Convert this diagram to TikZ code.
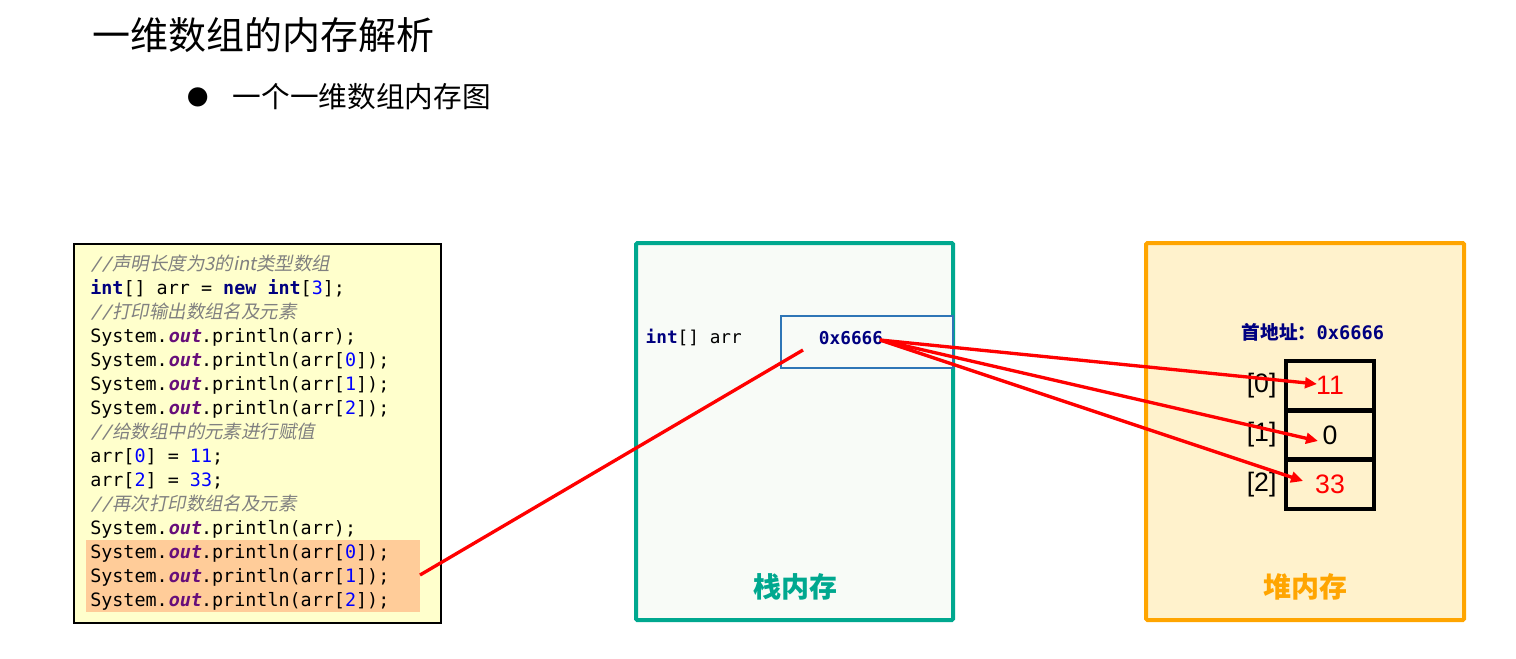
\documentclass[tikz,border=0pt]{standalone}
\usepackage{fontspec}
\setmonofont{DejaVu Sans Mono}
\setsansfont{Liberation Sans}
\newfontfamily\cjk{Noto Sans CJK SC}
\newfontfamily\cjkit{Noto Sans CJK SC}[FakeSlant=0.2]
\newfontfamily\monoit{DejaVu Sans Mono}[FakeSlant=0.2]
\usetikzlibrary{arrows.meta,positioning}
\definecolor{codebg}{HTML}{FFFFCC}
\definecolor{hlbg}{HTML}{FFCC99}
\definecolor{stackc}{HTML}{00A88F}
\definecolor{stackbg}{HTML}{F8FBF7}
\definecolor{heapc}{HTML}{FFA500}
\definecolor{heapbg}{HTML}{FFF2CC}
\definecolor{navy}{HTML}{000080}
\definecolor{kwc}{HTML}{00007F}
\definecolor{numc}{HTML}{0000FF}
\definecolor{outc}{HTML}{660E7A}
\definecolor{cmtc}{HTML}{808080}
\definecolor{addrc}{HTML}{2E75B6}
\newcommand{\kw}[1]{\textcolor{kwc}{\bfseries #1}}
\newcommand{\num}[1]{\textcolor{numc}{#1}}
\newcommand{\outf}{\textcolor{outc}{\bfseries\monoit out}}
\newcommand{\cmt}[1]{\textcolor{cmtc}{\monoit //\cjkit #1}}
\begin{document}
\begin{tikzpicture}[
    x=0.75pt, y=-0.75pt,
    font=\cjk,
    memorybox/.style={line width=3pt, rounded corners=1pt},
    cellbox/.style={draw, line width=3.5pt, outer sep=0pt, minimum width=66pt, minimum height=37pt, inner sep=0pt, font=\sffamily\fontsize{20}{20}\selectfont},
    idxlabel/.style={font=\sffamily\fontsize{20}{20}\selectfont, anchor=east, inner sep=1pt},
    redline/.style={red, line width=2.5pt},
    redarrow/.style={redline, -{Triangle[length=9pt,width=8pt]}}
    ]
    \useasboundingbox (0,0) rectangle (1516,658);

    % title
    \node (title) [anchor=west, font=\cjk\fontsize{28.5}{28.5}\selectfont] at (88,35) {一维数组的内存解析};
    \node (bullet) [font=\cjk\fontsize{16}{16}\selectfont] at (198,97) {●};
    \node (sub) [anchor=west, font=\cjk\fontsize{21.5}{21.5}\selectfont] at (228,97) {一个一维数组内存图};

    % code
    \draw [fill=codebg, line width=1pt] (74,244) rectangle (441,623);
    \fill [hlbg] (86,540) rectangle (420,612);
    \coordinate (hl) at (420,575);
    \node (code) [anchor=north west, align=left, inner sep=0pt,
      font=\ttfamily\fontsize{13.8}{18}\selectfont] at (90,255) {%
      \cmt{声明长度为3的int类型数组}\\
      \kw{int}[] arr = \kw{new} \kw{int}[\num{3}];\\
      \cmt{打印输出数组名及元素}\\
      System.\outf.println(arr);\\
      System.\outf.println(arr[\num{0}]);\\
      System.\outf.println(arr[\num{1}]);\\
      System.\outf.println(arr[\num{2}]);\\
      \cmt{给数组中的元素进行赋值}\\
      arr[\num{0}] = \num{11};\\
      arr[\num{2}] = \num{33};\\
      \cmt{再次打印数组名及元素}\\
      System.\outf.println(arr);\\
      System.\outf.println(arr[\num{0}]);\\
      System.\outf.println(arr[\num{1}]);\\
      System.\outf.println(arr[\num{2}]);};

    % stack
    \draw [memorybox, draw=stackc, fill=stackbg] (636,243) rectangle (953,620);
    \node (stack) [text=stackc, font=\cjk\bfseries\fontsize{21}{21}\selectfont] at (795,587) {栈内存};
    \node (var) [anchor=west, font=\ttfamily\fontsize{13.3}{13.3}\selectfont] at (641,337) {\kw{int}[] arr};
    \draw [addrc, line width=1pt, fill=stackbg] (781,316) rectangle (953,368);
    \node (addr) [text=navy, font=\ttfamily\bfseries\fontsize{13.3}{13.3}\selectfont] at (851,338) {0x6666};

    % heap
    \draw [memorybox, draw=heapc, fill=heapbg] (1146,243) rectangle (1464,620);
    \node (heap) [text=heapc, font=\cjk\bfseries\fontsize{21}{21}\selectfont] at (1305,587) {堆内存};
    \node (base) [text=navy, font=\cjk\bfseries\fontsize{14}{14}\selectfont] at (1313,332) {首地址：{\ttfamily 0x6666}};
    \node (c0) [cellbox, text=red, anchor=north] at (1330,361) {11};
    \node (c1) [cellbox, below=0pt of c0] {0};
    \node (c2) [cellbox, below=0pt of c1, text=red] {33};
    \node [idxlabel] at ([xshift=-6pt]c0.west) {[0]};
    \node [idxlabel] at ([xshift=-6pt]c1.west) {[1]};
    \node [idxlabel] at ([xshift=-6pt]c2.west) {[2]};

    % arrows
    \coordinate (src) at (880,340);
    \draw [redline] (hl) -- (803,350);
    \draw [redarrow] (src) -- (1317,384);
    \draw [redarrow] (src) -- (1318,441);
    \draw [redarrow] (src) -- (1303,481);
  \end{tikzpicture}
\end{document}
